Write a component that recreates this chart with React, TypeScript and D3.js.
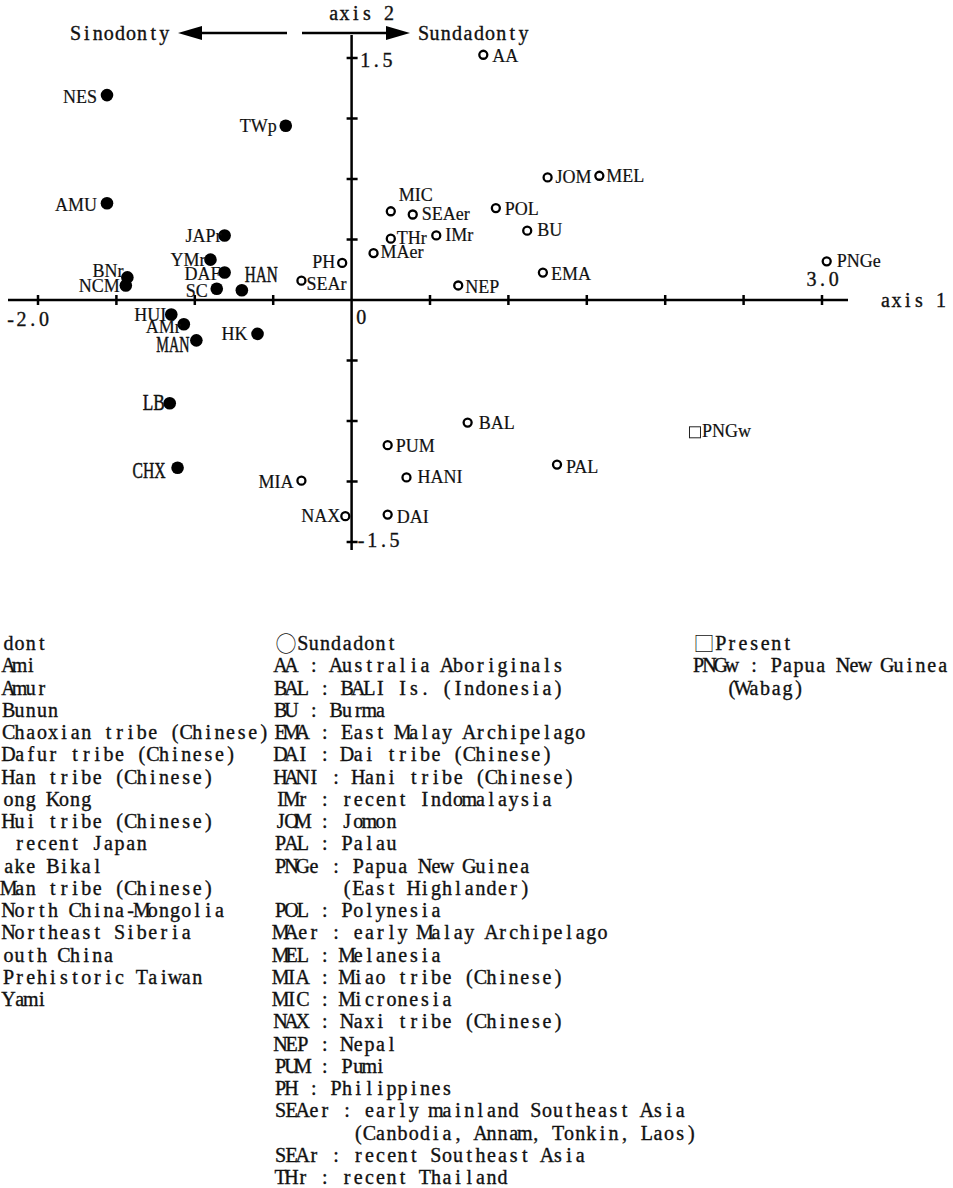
import React, { useRef, useEffect } from "react";
import * as d3 from "d3";

// axis values
const sinoNames = ["NES", "TWp", "AMU", "JAPr", "YMr", "DAF", "BNr", "NCM", "SC", "HAN", "HUI", "AMr", "MAN", "HK", "LB", "CHX"];
const sinoX = [-1.56, -0.42, -1.56, -0.81, -0.9, -0.81, -1.43, -1.44, -0.86, -0.7, -1.15, -1.07, -0.99, -0.6, -1.16, -1.11];
const sinoY = [1.27, 1.08, 0.6, 0.4, 0.25, 0.17, 0.14, 0.09, 0.07, 0.06, -0.09, -0.15, -0.25, -0.21, -0.64, -1.04];

const sundaNames = ["AA", "JOM", "MEL", "POL", "BU", "PNGe", "EMA", "NEP", "MIC", "SEAer", "THr", "IMr", "MAer", "PH", "SEAr", "BAL", "PAL", "PUM", "HANI", "MIA", "NAX", "DAI"];
const sundaX = [0.84, 1.25, 1.58, 0.92, 1.12, 3.03, 1.22, 0.68, 0.25, 0.39, 0.25, 0.54, 0.14, -0.06, -0.32, 0.74, 1.31, 0.23, 0.35, -0.32, -0.04, 0.23];
const sundaY = [1.52, 0.76, 0.77, 0.57, 0.43, 0.24, 0.17, 0.09, 0.55, 0.53, 0.38, 0.4, 0.29, 0.23, 0.12, -0.76, -1.02, -0.9, -1.1, -1.12, -1.34, -1.33];

const presentNames = ["PNGw"];
const presentX = [2.19];
const presentY = [-0.82];

const xTicks = [-2, -1.5, -1, -0.5, 0, 0.5, 1, 1.5, 2, 2.5, 3];
const yTicks = [-1.5, -1.125, -0.75, -0.375, 0, 0.375, 0.75, 1.125, 1.5];

const sinoLegend = ["dont", "Ami", "Amur", "Bunun", "Chaoxian tribe (Chinese)", "Dafur tribe (Chinese)", "Han tribe (Chinese)", "ong Kong", "Hui tribe (Chinese)", " recent Japan", "ake Bikal", "Man tribe (Chinese)", "North China-Mongolia", "Northeast Siberia", "outh China", "Prehistoric Taiwan", "Yami"];
const sundaLegend = ["○Sundadont", "AA : Australia Aboriginals", "BAL : BALI Is. (Indonesia)", "BU : Burma", "EMA : East Malay Archipelago", "DAI : Dai tribe (Chinese)", "HANI : Hani tribe (Chinese)", "IMr : recent Indomalaysia", "JOM : Jomon", "PAL : Palau", "PNGe : Papua New Guinea", "      (East Highlander)", "POL : Polynesia", "MAer : early Malay Archipelago", "MEL : Melanesia", "MIA : Miao tribe (Chinese)", "MIC : Micronesia", "NAX : Naxi tribe (Chinese)", "NEP : Nepal", "PUM : Pumi", "PH : Philippines", "SEAer : early mainland Southeast Asia", "       (Canbodia, Annam, Tonkin, Laos)", "SEAr : recent Southeast Asia", "THr : recent Thailand"];
const presentLegend = ["□Present", "PNGw : Papua New Guinea", "   (Wabag)"];

// label placement: [dx, dy, anchor]
const labelPos: Record<string, [number, number, string]> = {
  NES: [-10, 8, "end"], TWp: [-9, 6, "end"], AMU: [-10, 8, "end"], JAPr: [-3, 7, "end"],
  YMr: [-5, 6, "end"], DAF: [-4, 7, "end"], BNr: [-4, 0, "end"], NCM: [-6, 7, "end"],
  SC: [-9, 8, "end"], HAN: [3, -8, "start"], HUI: [-5, 6, "end"], AMr: [-3, 9, "end"],
  MAN: [-7, 12, "end"], HK: [-10, 6, "end"], LB: [-5, 7, "end"], CHX: [-12, 10, "end"],
  AA: [9, 7, "start"], JOM: [8, 6, "start"], MEL: [7, 6, "start"], POL: [9, 7, "start"],
  BU: [10, 5, "start"], PNGe: [10, 6, "start"], EMA: [8, 7, "start"], NEP: [7, 8, "start"],
  MIC: [8, -10, "start"], SEAer: [9, 6, "start"], THr: [6, 5, "start"], IMr: [9, 6, "start"],
  MAer: [7, 5, "start"], PH: [-7, 5, "end"], SEAr: [5, 9, "start"], BAL: [11, 6, "start"],
  PAL: [9, 8, "start"], PUM: [8, 7, "start"], HANI: [11, 6, "start"], MIA: [-8, 7, "end"],
  NAX: [-5, 6, "end"], DAI: [9, 8, "start"], PNGw: [7, 5, "start"],
};
// these four are set taller and narrower in the original
const tallLabels = ["HAN", "MAN", "CHX", "LB"];

const CELL = 11.1;
const MONO = "'Liberation Serif', 'DejaVu Serif', serif";
const SYMBOLS = "○□";

// half-width "mincho" look: every glyph centred in its own cell,
// the legend symbols take a full-width (two cell) slot
const monoText = (g, str, x0, y, size = 20) => {
  let start = x0;
  let rest = str;
  if (SYMBOLS.includes(str[0])) {
    g.append("text")
      .attr("x", x0 + CELL)
      .attr("y", y + 1)
      .attr("text-anchor", "middle")
      .attr("font-family", "'Noto Sans CJK JP', sans-serif")
      .attr("font-size", 21)
      .attr("font-weight", 300)
      .attr("fill", "#111")
      .text(str[0]);
    start = x0 + 2 * CELL;
    rest = str.slice(1);
  }
  const chars = Array.from(rest);
  const xs = chars.map((_, i) => (start + CELL * (i + 0.5)).toFixed(1)).join(" ");
  g.append("text")
    .attr("x", xs)
    .attr("y", y)
    .attr("text-anchor", "middle")
    .attr("font-family", MONO)
    .attr("font-size", size)
    .attr("fill", "#111")
    .attr("stroke", "#111")
    .attr("stroke-width", 0.35)
    .style("white-space", "pre")
    .text(rest);
};

const App = () => {
  const svgRef = useRef(null);

  useEffect(() => {
    const svg = d3.select(svgRef.current);
    svg.selectAll("*").remove();

    const x = d3.scaleLinear().domain([-2, 3]).range([38, 822]);
    const y = d3.scaleLinear().domain([-1.5, 1.5]).range([542, 58]);
    const x0 = x(0);
    const y0 = y(0);

    const g = svg.append("g");

    // axes
    g.append("line").attr("x1", 8).attr("x2", 848).attr("y1", y0).attr("y2", y0)
      .attr("stroke", "#000").attr("stroke-width", 2.5);
    g.append("line").attr("x1", x0).attr("x2", x0).attr("y1", 35).attr("y2", 550)
      .attr("stroke", "#000").attr("stroke-width", 2.5);

    g.selectAll(".xt").data(xTicks.filter((d) => d !== 0)).join("line")
      .attr("x1", (d) => x(d)).attr("x2", (d) => x(d))
      .attr("y1", y0 - 5).attr("y2", y0 + 5)
      .attr("stroke", "#000").attr("stroke-width", 2.5);
    g.selectAll(".yt").data(yTicks.filter((d) => d !== 0)).join("line")
      .attr("x1", x0 - 5).attr("x2", x0 + 6)
      .attr("y1", (d) => y(d)).attr("y2", (d) => y(d))
      .attr("stroke", "#000").attr("stroke-width", 2.5);

    monoText(g, "-2.0", x(-2) - 33, y0 + 26);
    monoText(g, "3.0", x(3) - 16, y0 - 14);
    monoText(g, "0", x0 + 4, y0 + 24);
    monoText(g, "1.5", x0 + 8, y(1.5) + 9);
    monoText(g, "-1.5", x0 + 4, y(-1.5) + 5);
    monoText(g, "axis 1", 880, y0 + 7);
    monoText(g, "axis 2", 328, 20);

    // direction arrows
    g.append("line").attr("x1", 287).attr("x2", 195).attr("y1", 33).attr("y2", 33)
      .attr("stroke", "#000").attr("stroke-width", 2.5);
    g.append("path").attr("d", "M178,33 L202,26 L202,40 Z").attr("fill", "#000");
    g.append("line").attr("x1", 302).attr("x2", 393).attr("y1", 33).attr("y2", 33)
      .attr("stroke", "#000").attr("stroke-width", 2.5);
    g.append("path").attr("d", "M410,33 L386,26 L386,40 Z").attr("fill", "#000");
    monoText(g, "Sinodonty", 70, 40);
    monoText(g, "Sundadonty", 418, 40);

    const rows = (names, xs, ys) => names.map((n, i) => ({ name: n, x: xs[i], y: ys[i] }));
    const sino = rows(sinoNames, sinoX, sinoY);
    const sunda = rows(sundaNames, sundaX, sundaY);
    const present = rows(presentNames, presentX, presentY);

    g.selectAll(".sino").data(sino).join("circle")
      .attr("cx", (d) => x(d.x)).attr("cy", (d) => y(d.y)).attr("r", 6.3)
      .attr("fill", "#000");
    g.selectAll(".sunda").data(sunda).join("circle")
      .attr("cx", (d) => x(d.x)).attr("cy", (d) => y(d.y)).attr("r", 4)
      .attr("fill", "#fff").attr("stroke", "#000").attr("stroke-width", 2.3);
    g.selectAll(".present").data(present).join("rect")
      .attr("x", (d) => x(d.x) - 5.5).attr("y", (d) => y(d.y) - 5.5)
      .attr("width", 11).attr("height", 11)
      .attr("fill", "none").attr("stroke", "#222").attr("stroke-width", 1);

    const isTall = (d) => tallLabels.includes(d.name);
    g.selectAll(".lbl").data([...sino, ...sunda, ...present]).join("text")
      .attr("x", (d) => x(d.x) + labelPos[d.name][0])
      .attr("y", (d) => y(d.y) + labelPos[d.name][1])
      .attr("text-anchor", (d) => labelPos[d.name][2])
      .attr("font-family", "'Liberation Serif', serif")
      .attr("font-size", (d) => (isTall(d) ? 23 : 18))
      .attr("textLength", (d) => (isTall(d) ? d.name.length * 11 : null))
      .attr("lengthAdjust", "spacingAndGlyphs")
      .attr("fill", "#111")
      .attr("stroke", "#111")
      .attr("stroke-width", (d) => (isTall(d) ? 0.5 : 0.2))
      .text((d) => d.name);

    // legend columns
    const lineH = 22.25;
    sinoLegend.forEach((s, i) => monoText(g, s, 3, 650 + i * lineH));
    sundaLegend.forEach((s, i) => monoText(g, s, 275, 650 + i * lineH));
    presentLegend.forEach((s, i) => monoText(g, s, 693, 650 + i * lineH));
  }, []);

  return (
    <svg
      ref={svgRef}
      width={953}
      height={1188}
      style={{ position: "absolute", left: 0, top: 0, background: "#fff" }}
    ></svg>
  );
};

export default App;
